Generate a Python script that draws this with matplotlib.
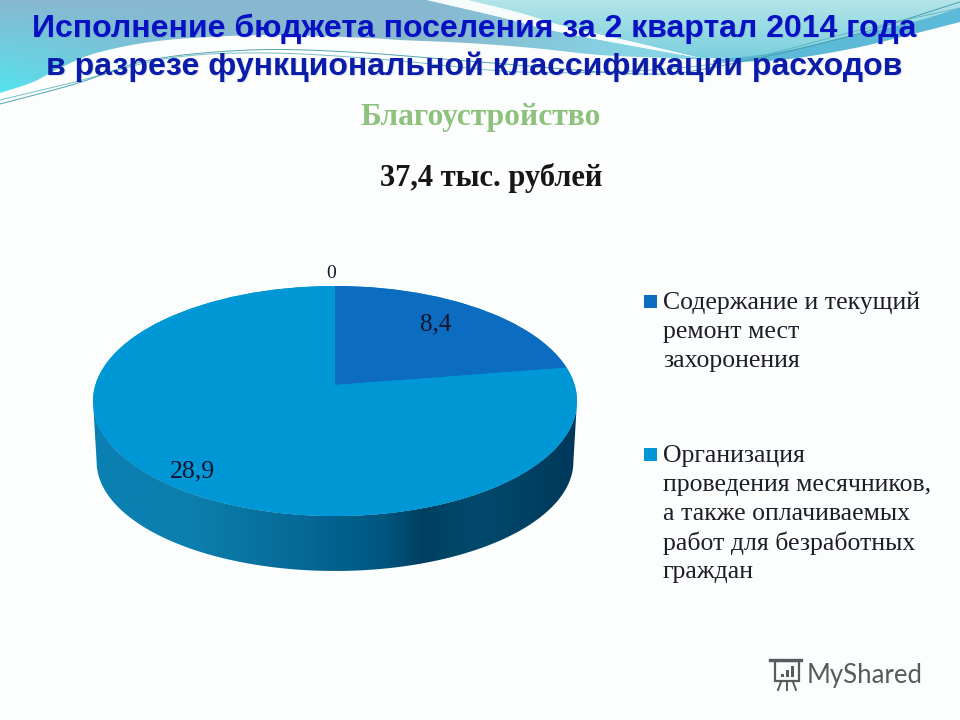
import numpy as np
import matplotlib
matplotlib.use("Agg")
import matplotlib.pyplot as plt
from matplotlib.patches import Ellipse, Rectangle, Polygon
from matplotlib.colors import LinearSegmentedColormap, to_rgb

# ---------- data ----------
values = [8.4, 28.9, 0]
value_labels = ["8,4", "28,9", "0"]
slice_colors = ["#0b6cc0", "#0097d6", "#0097d6"]
legend_labels = [
    ["Содержание и текущий", "ремонт мест", "захоронения"],
    ["Организация", "проведения месячников,", "а также оплачиваемых", "работ для безработных", "граждан"],
]
title_lines = ["Исполнение бюджета поселения за 2 квартал 2014 года",
               "в разрезе функциональной классификации расходов"]
subtitle = "Благоустройство"
total_label = "37,4 тыс. рублей"
watermark = "MyShared"

W, H = 960, 720
fig = plt.figure(figsize=(9.6, 7.2), dpi=100, facecolor="#fcfdfd")

# ---------- background (pixel coordinates) ----------
bg = fig.add_axes([0, 0, 1, 1])
bg.set_xlim(0, W)
bg.set_ylim(H, 0)
bg.axis("off")


def smooth(pts, n=16):
    p = np.array(pts, float)
    p = np.vstack([2 * p[0] - p[1], p, 2 * p[-1] - p[-2]])
    out = []
    for i in range(1, len(p) - 2):
        for t in np.linspace(0, 1, n, endpoint=False):
            out.append(0.5 * ((2 * p[i]) + (-p[i - 1] + p[i + 1]) * t
                              + (2 * p[i - 1] - 5 * p[i] + 4 * p[i + 1] - p[i + 2]) * t ** 2
                              + (-p[i - 1] + 3 * p[i] - 3 * p[i + 1] + p[i + 2]) * t ** 3))
    out.append(p[-2])
    return np.array(out)


def mix(c1, c2, t):
    c1, c2 = np.array(to_rgb(c1)), np.array(to_rgb(c2))
    return c1[None, None, :] * (1 - t[..., None]) + c2[None, None, :] * t[..., None]


yy, xx = np.mgrid[0:130, 0:W]
# left, darker area with a lighter teal tail towards the right
t_left = np.clip((yy / 90.0) * (1 - xx / 260.0), 0, 1)
img_left = mix("#88b8d0", "#55e2ee", t_left)
t_tail = np.clip((xx - 430) / 200.0, 0, 1)[..., None]
img_left = img_left * (1 - t_tail) + np.array(to_rgb("#86d4e4")) * t_tail
wave = smooth([(0, 93), (33, 82), (62, 67), (100, 52), (167, 40), (267, 35), (367, 38), (400, 40),
               (467, 43), (533, 48), (600, 55), (667, 58), (713, 60)])
streak_low = smooth([(427, 0), (500, 17), (550, 30), (617, 43), (700, 58)])
left_poly = Polygon(np.vstack([[(0, 0)], wave, streak_low[::-1]]), closed=True, transform=bg.transData, fc="none", ec="none")
bg.add_patch(left_poly)
im = bg.imshow(img_left, extent=(0, W, 130, 0), aspect="auto", zorder=1, interpolation="bilinear")
im.set_clip_path(left_poly)

# white streak
streak_up = smooth([(467, 0), (520, 13), (567, 27), (633, 42), (700, 58)])
bg.add_patch(Polygon(np.vstack([streak_low, streak_up[::-1]]), closed=True, fc="#f6fcfc", ec="none", zorder=2))

# right, lighter area
right_low = smooth([(700, 58), (780, 58), (847, 43), (913, 27), (960, 12)])
img_right = mix("#b2e4e8", "#78cfde", np.clip(yy / 60.0, 0, 1))
right_poly = Polygon(np.vstack([streak_up, right_low, [(960, 0)]]), closed=True, transform=bg.transData, fc="none", ec="none")
bg.add_patch(right_poly)
im2 = bg.imshow(img_right, extent=(0, W, 130, 0), aspect="auto", zorder=1, interpolation="bilinear")
im2.set_clip_path(right_poly)

# deeper blue band at the far right
band_low = smooth([(713, 62), (780, 60), (850, 49), (913, 34), (960, 22)])
band_up = smooth([(713, 60), (780, 52), (850, 36), (913, 22), (960, 8)])
bg.add_patch(Polygon(np.vstack([band_low, band_up[::-1]]), closed=True, fc="#5db9d8", ec="none", zorder=2))

# thin swoosh lines
for pts, col, a in [
    ([(0, 104), (75, 84), (150, 60), (250, 50), (350, 52), (480, 62), (640, 74), (720, 66), (850, 36), (960, 2)], "#3d9aa8", 0.9),
    ([(0, 100), (75, 82), (170, 58), (270, 53), (390, 60), (520, 72), (650, 70), (750, 58), (860, 30), (960, 8)], "#57aebb", 0.8),
]:
    c = smooth(pts)
    bg.plot(c[:, 0], c[:, 1], color=col, lw=0.7, alpha=a, zorder=3)
bg.set_xlim(0, W)
bg.set_ylim(H, 0)

# ---------- 3D-looking pie ----------
PL, PR, PT, PB = 93, 577, 286, 571  # pixel box of the pie body
ax = fig.add_axes([PL / W, 1 - PB / H, (PR - PL) / W, (PB - PT) / H])
ax.axis("off")

depth = 55 / 115.0
side_cmap = LinearSegmentedColormap.from_list(
    "side", [(0, "#0a7fb2"), (0.2, "#0c7fae"), (0.42, "#066a98"), (0.6, "#005781"),
             (0.68, "#003f60"), (0.8, "#024a6d"), (1, "#00385a")])
th = np.linspace(np.pi, 2 * np.pi, 200)
upper = np.column_stack([np.cos(th), np.sin(th)])
lower = np.column_stack([0.985 * np.cos(th), -0.528 + 0.95 * np.sin(th)])
side_poly = Polygon(np.vstack([upper, lower[::-1]]), closed=True, transform=ax.transData, fc="none", ec="none")
ax.add_patch(side_poly)
side = ax.imshow(np.linspace(0, 1, 256)[None, :], cmap=side_cmap, extent=(-1, 1, -1 - depth, 0),
                 aspect="auto", zorder=1)
side.set_clip_path(side_poly)

top = Ellipse((0, 0), 2, 2, fc=slice_colors[1], ec="none", zorder=2)
ax.add_patch(top)
# apex sits above the ellipse centre because of the perspective
wedges, _ = ax.pie(values, colors=slice_colors, startangle=90, counterclock=False,
                   center=(0, 16 / 115.0), radius=3, normalize=True, frame=False)
for w in wedges:
    w.set_zorder(3)
    w.set_clip_on(True)
    w.set_clip_path(top)
ax.set_aspect("auto")
ax.set_xlim(-1, 1)
ax.set_ylim(-1 - depth, 1)
ax.axis("off")

# ---------- texts (pixel coordinates) ----------
tx = fig.add_axes([0, 0, 1, 1])
tx.set_xlim(0, W)
tx.set_ylim(H, 0)
tx.axis("off")
tx.patch.set_alpha(0)

sans = "Liberation Sans"
serif = "Liberation Serif"
for line, y, col in zip(title_lines, [29, 67], ["#0810c4", "#0a1ca8"]):
    tx.text(475, y + 1, line, family=sans, weight="bold", fontsize=23, color="#5f7fa8", alpha=0.2,
            ha="center", va="center", zorder=4)
    tx.text(474, y, line, family=sans, weight="bold", fontsize=23, color=col, ha="center", va="center", zorder=5)
tx.text(480.5, 117, subtitle, family=serif, weight="bold", fontsize=22.7, color="#8cc27c", ha="center", va="center")
tx.text(491.5, 178, total_label, family=serif, weight="bold", fontsize=22, color="#161616", ha="center", va="center")

# value labels
for lab, (x, y), fs in zip(value_labels, [(436, 324), (192, 471), (331, 273)], [18, 18.5, 14]):
    tx.text(x, y, lab, family=serif, fontsize=fs, color="#14142e", ha="center", va="center", zorder=6)

# legend
for lines, y0, col in zip(legend_labels, [301, 454], slice_colors):
    tx.add_patch(Rectangle((644, y0 - 6), 13, 13, fc=col, ec="none"))
    for i, line in enumerate(lines):
        tx.text(663, y0 + 2 + i * 29, line, family=serif, fontsize=18.5, color="#1e1e28", ha="left", va="center")

# watermark
wm = "#565c5e"
tx.text(807, 675, watermark, family="Lato", fontsize=18.5, color=wm, ha="left", va="center")
tx.add_patch(Rectangle((775, 661), 24, 20, fc="none", ec=wm, lw=1.6))
tx.plot([770, 801], [660, 660], color=wm, lw=2.4)
for bx, bh in zip([781, 786, 791], [3, 7, 11]):
    tx.add_patch(Rectangle((bx, 677 - bh), 3, bh, fc=wm, ec="none"))
for x0, x1 in [(781, 778), (787, 787), (793, 796)]:
    tx.plot([x0, x1], [682, 690], color=wm, lw=1.4)

fig.savefig("out.png", dpi=100, facecolor=fig.get_facecolor())
